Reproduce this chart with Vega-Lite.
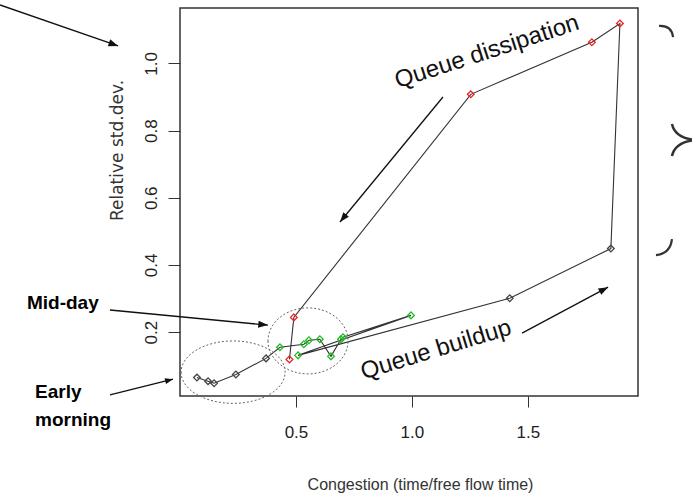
{
  "$schema": "https://vega.github.io/schema/vega-lite/v6.json",
  "width": 458,
  "height": 388,
  "autosize": {"type": "none"},
  "padding": {"left": 180, "top": 8, "right": 54, "bottom": 97},
  "background": "white",
  "config": {"view": {"stroke": "#333", "strokeWidth": 1.5}, "font": "Liberation Sans"},
  "datasets": {
    "pts": [
      {"t": 1, "x": 0.073, "y": 0.065, "period": "early"},
      {"t": 2, "x": 0.121, "y": 0.054, "period": "early"},
      {"t": 3, "x": 0.147, "y": 0.048, "period": "early"},
      {"t": 4, "x": 0.241, "y": 0.074, "period": "early"},
      {"t": 5, "x": 0.371, "y": 0.122, "period": "early"},
      {"t": 6, "x": 0.431, "y": 0.155, "period": "midday"},
      {"t": 7, "x": 0.534, "y": 0.164, "period": "midday"},
      {"t": 8, "x": 0.556, "y": 0.176, "period": "midday"},
      {"t": 9, "x": 0.603, "y": 0.179, "period": "midday"},
      {"t": 10, "x": 0.651, "y": 0.128, "period": "midday"},
      {"t": 11, "x": 0.694, "y": 0.179, "period": "midday"},
      {"t": 12, "x": 0.703, "y": 0.185, "period": "midday"},
      {"t": 13, "x": 0.996, "y": 0.25, "period": "midday"},
      {"t": 14, "x": 0.509, "y": 0.131, "period": "midday"},
      {"t": 15, "x": 1.422, "y": 0.301, "period": "buildup"},
      {"t": 16, "x": 1.858, "y": 0.449, "period": "buildup"},
      {"t": 17, "x": 1.897, "y": 1.119, "period": "dissipation"},
      {"t": 18, "x": 1.776, "y": 1.063, "period": "dissipation"},
      {"t": 19, "x": 1.254, "y": 0.908, "period": "dissipation"},
      {"t": 20, "x": 0.491, "y": 0.244, "period": "dissipation"},
      {"t": 21, "x": 0.472, "y": 0.119, "period": "dissipation"}
    ],
    "regions": [
      {"name": "early", "x": 0.229, "y": 0.081},
      {"name": "midday", "x": 0.552, "y": 0.174}
    ],
    "arrows": [
      {"name": "top", "x": -0.776, "y": 1.174, "x2": -0.267, "y2": 1.052},
      {"name": "midday", "x": -0.302, "y": 0.266, "x2": 0.379, "y2": 0.221},
      {"name": "early", "x": -0.302, "y": 0.013, "x2": -0.03, "y2": 0.06},
      {"name": "dissipation", "x": 1.134, "y": 0.9, "x2": 0.69, "y2": 0.528},
      {"name": "buildup", "x": 1.475, "y": 0.197, "x2": 1.846, "y2": 0.334}
    ],
    "labels": [
      {"name": "dissipation", "label": "Queue dissipation", "x": 1.324, "y": 1.034},
      {"name": "buildup", "label": "Queue buildup", "x": 1.104, "y": 0.147},
      {"name": "side", "label": "Mid-day", "x": -0.66, "y": 0.287},
      {"name": "side", "label": "Early", "x": -0.625, "y": 0.022},
      {"name": "side", "label": "morning", "x": -0.625, "y": -0.062}
    ],
    "brace": [
      {"name": "top", "x": 2.096, "y": 1.097},
      {"name": "mid", "x": 2.156, "y": 0.772},
      {"name": "bottom", "x": 2.087, "y": 0.453}
    ]
  },
  "layer": [
    {
      "data": {"name": "pts"},
      "mark": {"type": "line", "color": "#333", "strokeWidth": 1.1},
      "encoding": {
        "x": {
          "field": "x", "type": "quantitative",
          "scale": {"domain": [0, 1.975], "nice": false, "zero": false},
          "axis": {
            "values": [0.5, 1, 1.5], "format": ".1f", "grid": false, "domain": false,
            "tickSize": 11, "tickColor": "#333", "labelFontSize": 17, "labelColor": "#222",
            "labelPadding": 17, "title": "Congestion (time/free flow time)",
            "titleFontSize": 16, "titleFontWeight": "normal", "titleColor": "#333",
            "titleX": 240, "titleY": 88, "titleBaseline": "middle", "titleAlign": "center"
          }
        },
        "y": {
          "field": "y", "type": "quantitative",
          "scale": {"domain": [0.01, 1.165], "nice": false, "zero": false},
          "axis": {
            "values": [0.2, 0.4, 0.6, 0.8, 1.0], "format": ".1f", "grid": false, "domain": false,
            "tickSize": 12, "tickColor": "#333", "labelFontSize": 17, "labelColor": "#222",
            "labelAngle": 270, "labelAlign": "center", "labelBaseline": "bottom", "labelPadding": 8,
            "title": "Relative std.dev.", "titleFont": "DejaVu Sans", "titleFontSize": 17, "titleFontWeight": "normal",
            "titleColor": "#333", "titleAngle": 270, "titleX": -63, "titleY": 142,
            "titleAlign": "center", "titleBaseline": "middle"
          }
        },
        "order": {"field": "t", "type": "quantitative"}
      }
    },
    {
      "data": {"name": "pts"},
      "mark": {"type": "point", "shape": "diamond", "filled": false, "size": 45, "strokeWidth": 1.3, "opacity": 1},
      "encoding": {
        "x": {"field": "x", "type": "quantitative"},
        "y": {"field": "y", "type": "quantitative"},
        "color": {
          "field": "period", "type": "nominal", "legend": null,
          "scale": {"domain": ["early", "midday", "buildup", "dissipation"], "range": ["#444444", "#22bb22", "#444444", "#ee2222"]}
        }
      }
    },
    {
      "data": {"name": "regions"},
      "transform": [{"filter": "datum.name === 'early'"}],
      "mark": {"type": "point", "shape": "M -1 0 A 1 0.6 0 1 0 1 0 A 1 0.6 0 1 0 -1 0", "filled": false, "size": 10816, "strokeWidth": 1, "strokeDash": [2, 2], "color": "#666", "opacity": 1},
      "encoding": {"x": {"field": "x", "type": "quantitative"}, "y": {"field": "y", "type": "quantitative"}}
    },
    {
      "data": {"name": "regions"},
      "transform": [{"filter": "datum.name === 'midday'"}],
      "mark": {"type": "point", "shape": "M -1 0 A 1 0.825 0 1 0 1 0 A 1 0.825 0 1 0 -1 0", "filled": false, "size": 6400, "strokeWidth": 1, "strokeDash": [2, 2], "color": "#666", "opacity": 1},
      "encoding": {"x": {"field": "x", "type": "quantitative"}, "y": {"field": "y", "type": "quantitative"}}
    },
    {
      "data": {"name": "arrows"},
      "mark": {"type": "rule", "color": "#111", "strokeWidth": 1.3},
      "encoding": {
        "x": {"field": "x", "type": "quantitative"},
        "y": {"field": "y", "type": "quantitative"},
        "x2": {"field": "x2"},
        "y2": {"field": "y2"}
      }
    },
    {
      "data": {"name": "arrows"},
      "transform": [{"filter": "datum.name === 'top'"}],
      "mark": {"type": "point", "shape": "M 0 0 L -0.6 1.6 L 0.6 1.6 Z", "filled": true, "size": 144, "color": "#111", "opacity": 1, "angle": 109.6},
      "encoding": {"x": {"field": "x2", "type": "quantitative"}, "y": {"field": "y2", "type": "quantitative"}}
    },
    {
      "data": {"name": "arrows"},
      "transform": [{"filter": "datum.name === 'midday'"}],
      "mark": {"type": "point", "shape": "M 0 0 L -0.6 1.6 L 0.6 1.6 Z", "filled": true, "size": 144, "color": "#111", "opacity": 1, "angle": 95.4},
      "encoding": {"x": {"field": "x2", "type": "quantitative"}, "y": {"field": "y2", "type": "quantitative"}}
    },
    {
      "data": {"name": "arrows"},
      "transform": [{"filter": "datum.name === 'early'"}],
      "mark": {"type": "point", "shape": "M 0 0 L -0.6 1.6 L 0.6 1.6 Z", "filled": true, "size": 100, "color": "#111", "opacity": 1, "angle": 75.7},
      "encoding": {"x": {"field": "x2", "type": "quantitative"}, "y": {"field": "y2", "type": "quantitative"}}
    },
    {
      "data": {"name": "arrows"},
      "transform": [{"filter": "datum.name === 'dissipation'"}],
      "mark": {"type": "point", "shape": "M 0 0 L -0.6 1.6 L 0.6 1.6 Z", "filled": true, "size": 144, "color": "#111", "opacity": 1, "angle": 219.5},
      "encoding": {"x": {"field": "x2", "type": "quantitative"}, "y": {"field": "y2", "type": "quantitative"}}
    },
    {
      "data": {"name": "arrows"},
      "transform": [{"filter": "datum.name === 'buildup'"}],
      "mark": {"type": "point", "shape": "M 0 0 L -0.6 1.6 L 0.6 1.6 Z", "filled": true, "size": 144, "color": "#111", "opacity": 1, "angle": 61.9},
      "encoding": {"x": {"field": "x2", "type": "quantitative"}, "y": {"field": "y2", "type": "quantitative"}}
    },
    {
      "data": {"name": "labels"},
      "transform": [{"filter": "datum.name === 'dissipation'"}],
      "mark": {"type": "text", "fontSize": 24, "angle": -18, "align": "center", "baseline": "middle", "color": "#111"},
      "encoding": {"x": {"field": "x", "type": "quantitative"}, "y": {"field": "y", "type": "quantitative"}, "text": {"field": "label"}}
    },
    {
      "data": {"name": "labels"},
      "transform": [{"filter": "datum.name === 'buildup'"}],
      "mark": {"type": "text", "fontSize": 24, "angle": -17, "align": "center", "baseline": "middle", "color": "#111"},
      "encoding": {"x": {"field": "x", "type": "quantitative"}, "y": {"field": "y", "type": "quantitative"}, "text": {"field": "label"}}
    },
    {
      "data": {"name": "labels"},
      "transform": [{"filter": "datum.name === 'side'"}],
      "mark": {"type": "text", "fontSize": 19, "fontWeight": "bold", "align": "left", "baseline": "middle", "color": "#000"},
      "encoding": {"x": {"field": "x", "type": "quantitative"}, "y": {"field": "y", "type": "quantitative"}, "text": {"field": "label"}}
    },
    {
      "data": {"name": "brace"},
      "transform": [{"filter": "datum.name === 'top'"}],
      "mark": {"type": "point", "shape": "M -1 -0.7 Q 0.8 -0.8 1 0.9", "filled": false, "size": 196, "strokeWidth": 2.2, "color": "#333", "opacity": 1},
      "encoding": {"x": {"field": "x", "type": "quantitative"}, "y": {"field": "y", "type": "quantitative"}}
    },
    {
      "data": {"name": "brace"},
      "transform": [{"filter": "datum.name === 'mid'"}],
      "mark": {"type": "point", "shape": "M -0.5 -1 Q -0.3 -0.1 1 0 Q -0.3 0.1 -0.5 1", "filled": false, "size": 1024, "strokeWidth": 2.5, "color": "#333", "opacity": 1},
      "encoding": {"x": {"field": "x", "type": "quantitative"}, "y": {"field": "y", "type": "quantitative"}}
    },
    {
      "data": {"name": "brace"},
      "transform": [{"filter": "datum.name === 'bottom'"}],
      "mark": {"type": "point", "shape": "M 1 -1 Q 0.8 0.8 -1 1", "filled": false, "size": 256, "strokeWidth": 2.2, "color": "#333", "opacity": 1},
      "encoding": {"x": {"field": "x", "type": "quantitative"}, "y": {"field": "y", "type": "quantitative"}}
    }
  ]
}
